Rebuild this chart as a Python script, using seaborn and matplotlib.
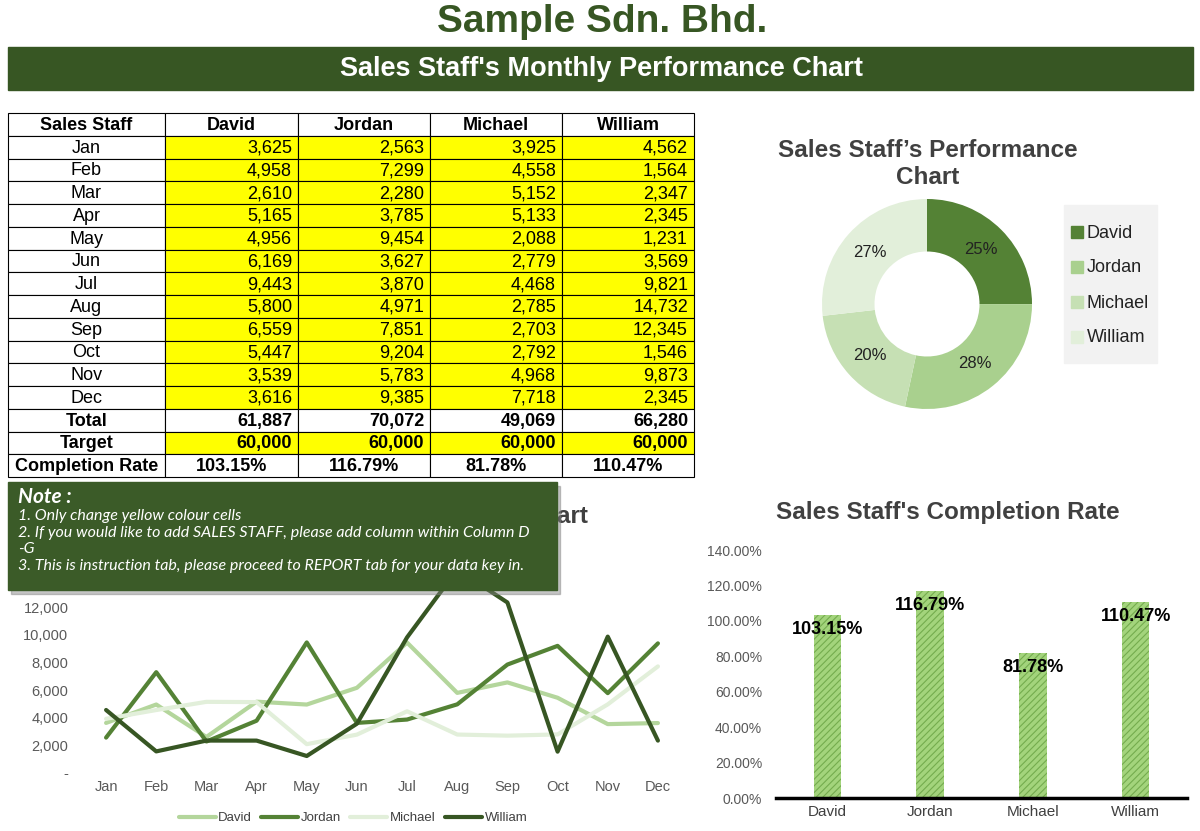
import numpy as np
import pandas as pd
import seaborn as sns
import matplotlib.pyplot as plt
from matplotlib.patches import Rectangle
from matplotlib.lines import Line2D

months = ['Jan', 'Feb', 'Mar', 'Apr', 'May', 'Jun', 'Jul', 'Aug', 'Sep', 'Oct', 'Nov', 'Dec']
staff = ['David', 'Jordan', 'Michael', 'William']
david = [3625, 4958, 2610, 5165, 4956, 6169, 9443, 5800, 6559, 5447, 3539, 3616]
jordan = [2563, 7299, 2280, 3785, 9454, 3627, 3870, 4971, 7851, 9204, 5783, 9385]
michael = [3925, 4558, 5152, 5133, 2088, 2779, 4468, 2785, 2703, 2792, 4968, 7718]
william = [4562, 1564, 2347, 2345, 1231, 3569, 9821, 14732, 12345, 1546, 9873, 2345]
targets = [60000, 60000, 60000, 60000]

W, H = 1200, 831
dark = '#375623'
line_colors = {'David': '#b4d69c', 'Jordan': '#548235', 'Michael': '#e2efda', 'William': '#375623'}
donut_colors = ['#548235', '#a9d08e', '#c6e0b4', '#e2efda']


def px_axes(fig, x0, y0, x1, y1, **kw):
    return fig.add_axes([x0 / W, 1 - y1 / H, (x1 - x0) / W, (y1 - y0) / H], **kw)


def pct(r):
    # excel style half-up rounding
    return f'{r * 100 + 1e-9:.2f}%'


def main():
    sns.set_theme(style='white')
    plt.rcParams['font.family'] = ['Liberation Sans', 'DejaVu Sans']
    plt.rcParams['hatch.linewidth'] = 0.8

    series = [david, jordan, michael, william]
    totals = [sum(s) for s in series]
    rates = [t / g for t, g in zip(totals, targets)]

    fig = plt.figure(figsize=(12, 8.31), dpi=100)

    # background: title, banner, table
    bg = px_axes(fig, 0, 0, W, H)
    bg.set_xlim(0, W)
    bg.set_ylim(H, 0)
    bg.axis('off')
    bg.text(602, 22, 'Sample Sdn. Bhd.', ha='center', va='center', fontsize=28,
            fontweight='bold', color=dark)
    bg.add_patch(Rectangle((8, 47), 1185, 43, color=dark))
    bg.text(601, 69, "Sales Staff's Monthly Performance Chart", ha='center', va='center',
            fontsize=19.5, fontweight='bold', color='white')

    col_edges = [8, 165, 298, 430, 562, 694]
    row_h = (477 - 113) / 16
    rows = [['Sales Staff'] + staff]
    for i, m in enumerate(months):
        rows.append([m] + [f'{s[i]:,}' for s in series])
    rows.append(['Total'] + [f'{t:,}' for t in totals])
    rows.append(['Target'] + [f'{t:,}' for t in targets])
    rows.append(['Completion Rate'] + [pct(r) for r in rates])

    for r, row in enumerate(rows):
        y0 = 113 + r * row_h
        yc = y0 + row_h / 2 + 1
        for c, val in enumerate(row):
            x0, x1 = col_edges[c], col_edges[c + 1]
            fill = '#ffff00' if (c > 0 and (1 <= r <= 12 or r == 14)) else 'white'
            bg.add_patch(Rectangle((x0, y0), x1 - x0, row_h, facecolor=fill,
                                   edgecolor='black', linewidth=0.8))
            bold = r == 0 or r >= 13
            if c == 0 or r == 0 or r == 15:
                bg.text((x0 + x1) / 2, yc, val, ha='center', va='center', fontsize=13,
                        fontweight='bold' if bold else 'normal', color='black')
            else:
                bg.text(x1 - 6, yc, val, ha='right', va='center', fontsize=13,
                        fontweight='bold' if bold else 'normal', color='black')

    # donut
    bg.text(928, 164, "Sales Staff\u2019s Performance\nChart", ha='center',
            va='center', fontsize=17.5, fontweight='bold', color='#404040', linespacing=1.2)
    dax = px_axes(fig, 822, 199, 1032, 409)
    dax.pie(totals, colors=donut_colors, startangle=90, counterclock=False, radius=1,
            wedgeprops=dict(width=0.5, edgecolor='none'), autopct='%1.0f%%',
            pctdistance=0.73, textprops=dict(fontsize=12, color='#222222'))
    dax.set_xlim(-1, 1)
    dax.set_ylim(-1, 1)
    # donut legend
    bg.add_patch(Rectangle((1064, 205), 93, 158, color='#f2f2f2'))
    for k, (s, c) in enumerate(zip(staff, donut_colors)):
        y = 232 + 35 * k
        bg.add_patch(Rectangle((1071, y - 6), 12, 12, color=c))
        bg.text(1087, y + 1, s, ha='left', va='center', fontsize=13, color='#222222')

    # line chart
    long = pd.DataFrame({
        'm': list(range(12)) * 4,
        'sales': david + jordan + michael + william,
        'staff': [s for s in staff for _ in months],
    })
    bg.text(353, 517, "Sales Staff's Monthly Performance Chart", ha='center', va='center',
            fontsize=17.5, fontweight='bold', color='#404040')
    lax = px_axes(fig, 81, 552, 683, 773)
    sns.lineplot(data=long, x='m', y='sales', hue='staff', palette=line_colors,
                 linewidth=3, ax=lax, legend=False, sort=False)
    lax.set_xlim(-0.5, 11.5)
    lax.set_ylim(0, 16000)
    lax.set_xticks(range(12), months)
    # 14,000 and 16,000 sit under the note box
    yt = list(range(0, 12001, 2000))
    lax.set_yticks(yt, ['-' if v == 0 else f'{v:,}' for v in yt])
    lax.tick_params(axis='both', length=0, labelsize=10.5, colors='#595959')
    lax.tick_params(axis='y', pad=9)
    lax.tick_params(axis='x', pad=5)
    lax.set_xlabel('')
    lax.set_ylabel('')
    for sp in lax.spines.values():
        sp.set_visible(False)
    lax.patch.set_alpha(0)
    lh = [Line2D([0], [0], color=line_colors[s], lw=3, label=s) for s in staff]
    lleg = fig.legend(handles=lh, loc='center', bbox_to_anchor=(353 / W, 1 - 818 / H), ncol=4,
                      frameon=False, fontsize=9.5, handlelength=2.8, handletextpad=0.2,
                      columnspacing=0.7)
    for t in lleg.get_texts():
        t.set_color('#404040')

    # completion rate bars
    bg.text(948, 513, "Sales Staff's Completion Rate", ha='center', va='center',
            fontsize=17.5, fontweight='bold', color='#404040')
    bax = px_axes(fig, 776, 550, 1187, 798)
    sns.barplot(x=staff, y=rates, color='#a3d47c', width=0.27, ax=bax, saturation=1)
    for p in bax.patches:
        p.set_hatch('/////')
        p.set_edgecolor('#74ac4e')
        p.set_linewidth(0)
    bax.set_ylim(0, 1.4)
    bt = [0, 0.2, 0.4, 0.6, 0.8, 1.0, 1.2, 1.4]
    bax.set_yticks(bt, [f'{v * 100:.2f}%' for v in bt])
    bax.tick_params(axis='y', length=0, labelsize=10, colors='#595959', pad=10)
    bax.tick_params(axis='x', length=0, labelsize=11, colors='#404040', pad=5)
    for side in ['left', 'right', 'top']:
        bax.spines[side].set_visible(False)
    bax.spines['bottom'].set_color('black')
    bax.spines['bottom'].set_linewidth(2.5)
    bax.patch.set_alpha(0)
    for i, r in enumerate(rates):
        bax.text(i, r - 0.08, pct(r), ha='center', va='center',
                 fontsize=13, fontweight='bold', color='black')

    # note box on top
    nax = px_axes(fig, 0, 0, W, H, zorder=20)
    nax.set_xlim(0, W)
    nax.set_ylim(H, 0)
    nax.axis('off')
    nax.patch.set_alpha(0)
    nax.add_patch(Rectangle((11, 486), 549, 108, color='#7f7f7f', alpha=0.45))
    nax.add_patch(Rectangle((8, 482), 549, 108, color='#3b5b28'))
    note_font = ['Lato', 'DejaVu Sans']
    nax.text(18, 497, 'Note :', ha='left', va='center', fontsize=15, fontweight='bold',
             style='italic', color='white', family=note_font)
    note_lines = [
        (516, '1. Only change yellow colour cells'),
        (533, '2. If you would like to add SALES STAFF, please add column within Column D'),
        (549, '-G'),
        (566, '3. This is instruction tab, please proceed to REPORT tab for your data key in.'),
    ]
    for y, txt in note_lines:
        nax.text(18, y, txt, ha='left', va='center', fontsize=11.5, style='italic',
                 color='white', family=note_font)

    plt.savefig('out.png', dpi=100)
    plt.close()


if __name__ == "__main__":
    main()
